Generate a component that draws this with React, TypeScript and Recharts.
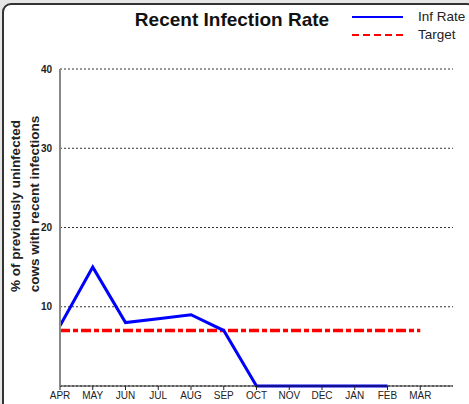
import { LineChart, Line, XAxis, YAxis, CartesianGrid } from 'recharts'

const months = ['APR', 'MAY', 'JUN', 'JUL', 'AUG', 'SEP', 'OCT', 'NOV', 'DEC', 'JAN', 'FEB', 'MAR']
const infRate = [7.6, 15, 8, 8.5, 9, 7, 0, 0, 0, 0, 0, null]
const target = [7, 7, 7, 7, 7, 7, 7, 7, 7, 7, 7, 7]
const yTicks = [10, 20, 30, 40]

const data = months.map((m, i) => ({ idx: i, month: m, inf: infRate[i], target: target[i] }))

const FONT = '"Liberation Sans", Arial, sans-serif'

// legend drawn by hand at the top right, outside the plot
const LegendBox = () => (
  <svg width={120} height={46} style={{ position: 'absolute', left: 350, top: 0, fontFamily: FONT }}>
    <line x1={2} y1={17} x2={53} y2={17} stroke="#0000ff" strokeWidth={2} />
    <text x={68} y={21} fontSize={13.5} fill="#222">Inf Rate</text>
    <line x1={2} y1={35} x2={53} y2={35} stroke="#ff0000" strokeWidth={2} strokeDasharray="7 4" />
    <text x={68} y={39} fontSize={13.5} fill="#222">Target</text>
  </svg>
)

const YLabel = () => (
  <g style={{ fontFamily: FONT }} fontWeight="bold" fontSize={13.5} fill="#222">
    <text x={20} y={206} textAnchor="middle" transform="rotate(-90 20 206)">% of previously uninfected</text>
    <text x={39} y={204} textAnchor="middle" transform="rotate(-90 39 204)">cows with recent infections</text>
  </g>
)

export default function App() {
  return (
    <div style={{ position: 'absolute', left: 0, top: 0, width: 469, height: 404, background: '#e6e6e6', overflow: 'hidden' }}>
      <div
        style={{
          position: 'absolute',
          left: 2,
          top: 3,
          width: 470,
          height: 420,
          border: '2px solid #333',
          borderRadius: 9,
          background: '#fff',
        }}
      />
      <div
        style={{
          position: 'absolute',
          left: 0,
          top: 9,
          width: 464,
          textAlign: 'center',
          fontFamily: FONT,
          fontWeight: 'bold',
          fontSize: 19,
          color: '#111',
        }}
      >
        Recent Infection Rate
      </div>
      <LegendBox />
      <div style={{ position: 'absolute', left: 0, top: 0 }}>
        <LineChart width={469} height={404} data={data} margin={{ top: 69, right: 16, bottom: 0, left: 0 }}>
          <CartesianGrid horizontal vertical={false} stroke="#333" strokeDasharray="2 2" strokeWidth={1} />
          <XAxis
            type="number"
            dataKey="idx"
            domain={[0, 12]}
            ticks={[0, 1, 2, 3, 4, 5, 6, 7, 8, 9, 10, 11]}
            tickFormatter={(v: number) => months[v]}
            interval={0}
            height={18}
            axisLine={{ stroke: '#222', strokeWidth: 1 }}
            tickLine={{ stroke: '#222' }}
            tickSize={4}
            tick={{ fill: '#222', fontSize: 10, fontFamily: FONT }}
          />
          <YAxis
            type="number"
            domain={[0, 40]}
            ticks={yTicks}
            width={60}
            axisLine={{ stroke: '#888', strokeWidth: 2 }}
            tickLine={false}
            tickMargin={2}
            tick={{ fill: '#222', fontSize: 10, fontWeight: 'bold', fontFamily: FONT }}
            label={<YLabel />}
          />
          <Line
            dataKey="target"
            stroke="#ff0000"
            strokeWidth={3.5}
            strokeDasharray="10 3 5 3"
            dot={false}
            isAnimationActive={false}
          />
          <Line dataKey="inf" type="linear" stroke="#0000ff" strokeWidth={3} dot={false} connectNulls={false} isAnimationActive={false} />
        </LineChart>
      </div>
    </div>
  )
}
